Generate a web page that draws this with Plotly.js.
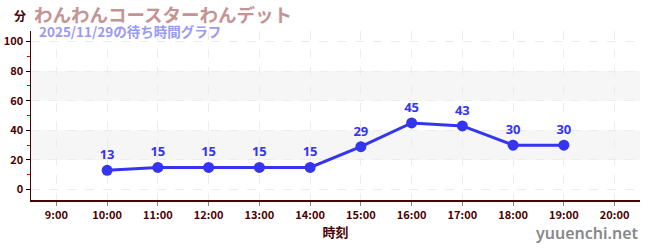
<!DOCTYPE html>
<html><head><meta charset="utf-8">
<script src="https://cdn.plot.ly/plotly-3.0.1.min.js"></script>
<style>body{margin:0;padding:0;background:#fff}#c{width:650px;height:250px}</style>
</head><body><div id="c"></div>
<script>
const times = ["10:00","11:00","12:00","13:00","14:00","15:00","16:00","17:00","18:00","19:00"];
const waits = [13,15,15,15,15,29,45,43,30,30];
const tickLabels = ["9:00","10:00","11:00","12:00","13:00","14:00","15:00","16:00","17:00","18:00","19:00","20:00"];
const yTicks = [0,20,40,60,80,100];
const bands = [[20,40],[60,80]];
const titleText = "わんわんコースターわんデット";
const subtitleText = "2025/11/29の待ち時間グラフ";

const toH = s => { const [h,m] = s.split(":").map(Number); return h + m/60; };
const xs = times.map(toH);
const tickVals = tickLabels.map(toH);

const axisColor = "#4d0000";
const cjk = "'Noto Sans CJK JP', sans-serif";

const trace = {
  x: xs, y: waits, type: "scatter", mode: "lines+markers+text",
  text: waits.map(String), textposition: "top center",
  textfont: {color: "#3535f0", size: 13, family: "'Noto Sans', sans-serif", weight: "bold"},
  line: {color: "#3535f0", width: 3},
  marker: {color: "#3535f0", size: 11},
  hoverinfo: "none", cliponaxis: false
};

const layout = {
  width: 650, height: 250,
  margin: {l: 31, r: 10, t: 31, b: 50},
  paper_bgcolor: "#fff", plot_bgcolor: "#fff",
  showlegend: false,
  xaxis: {
    range: [8.5, 20.5], tickvals: tickVals, ticktext: tickLabels,
    showline: true, linecolor: axisColor, linewidth: 1.5,
    ticks: "outside", ticklen: 4, tickcolor: "#888",
    tickfont: {color: axisColor, size: 11, family: cjk, weight: "bold"},
    showgrid: true, gridcolor: "#ececec", griddash: "dash", zeroline: false,
    title: {text: "時刻", font: {color: axisColor, size: 13, family: cjk, weight: "bold"}, standoff: 3}
  },
  yaxis: {
    range: [-7, 107], tickvals: yTicks,
    showline: true, linecolor: axisColor, linewidth: 1.5,
    ticks: "outside", ticklen: 4, tickcolor: "#000",
    tickfont: {color: axisColor, size: 11, family: cjk, weight: "bold"},
    showgrid: true, gridcolor: "#ececec", griddash: "dash", zeroline: false,
    minor: {tickvals: [10,30,50,70,90], ticks: "outside", ticklen: 3, tickcolor: "#e00000", showgrid: false}
  },
  shapes: bands.map(b => ({type: "rect", xref: "paper", yref: "y", x0: 0, x1: 1, y0: b[0], y1: b[1],
    fillcolor: "#f6f6f6", line: {width: 0}, layer: "below"})),
  annotations: [
    {text: titleText, xref: "paper", yref: "paper", x: 0, y: 1, xshift: 2, yshift: 17, xanchor: "left", yanchor: "middle",
     showarrow: false, borderpad: 0, font: {size: 18.5, color: "#c49494", family: cjk, weight: "bold"}},
    {text: subtitleText, xref: "paper", yref: "paper", x: 0, y: 1, xshift: 7, yshift: 0, xanchor: "left", yanchor: "middle",
     showarrow: false, borderpad: 0, font: {size: 13.5, color: "#9a9af2", family: cjk, weight: "bold"}},
    {text: "分", xref: "paper", yref: "paper", x: 0, y: 1, xshift: -11, yshift: 16, xanchor: "center", yanchor: "middle",
     showarrow: false, font: {size: 12, color: axisColor, family: cjk, weight: "bold"}},
    {text: "yuuenchi.net", xref: "paper", yref: "paper", x: 1, y: 0, xshift: 1, yshift: -33, xanchor: "right", yanchor: "middle",
     showarrow: false, font: {size: 16, color: "#888", family: "'Noto Sans', sans-serif", weight: 600}}
  ]
};
Plotly.newPlot("c", [trace], layout, {displayModeBar: false, staticPlot: true});
</script></body></html>
